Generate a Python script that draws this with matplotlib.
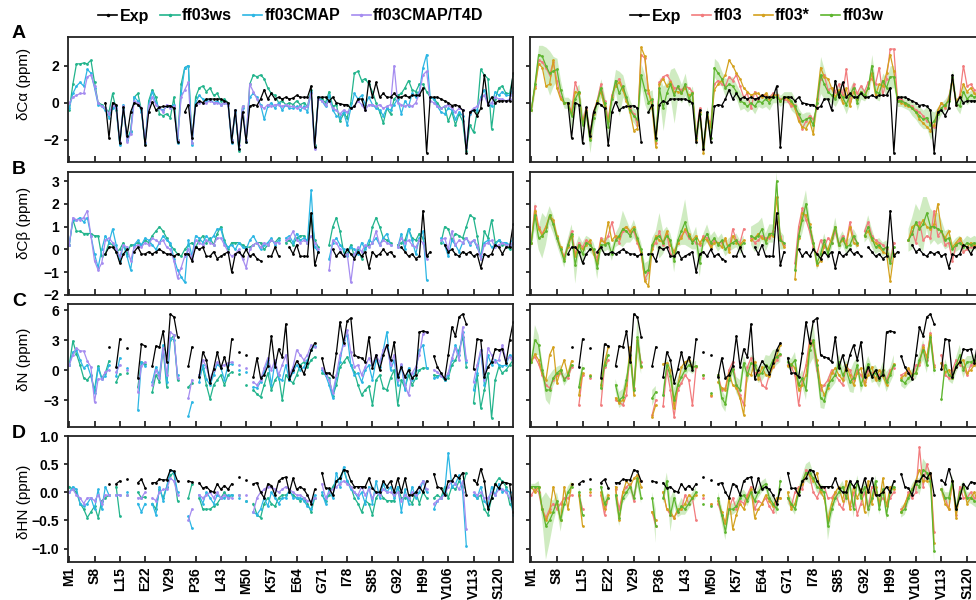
import numpy as np
import matplotlib.pyplot as plt
from matplotlib.lines import Line2D

plt.rcParams['font.family'] = ['Liberation Sans', 'DejaVu Sans']


def vals(s):
    out = [np.nan if t == '-' else float(t) for t in s.split()]
    assert len(out) == 124, len(out)
    return np.array(out)


res = np.arange(1, 125)
tick_pos = list(range(1, 121, 7))
tick_labels = ['M1', 'S8', 'L15', 'E22', 'V29', 'P36', 'L43', 'M50', 'K57', 'E64',
               'G71', 'I78', 'S85', 'G92', 'H99', 'V106', 'V113', 'S120']

# ---------------- A: C-alpha ----------------
exp_a = vals("""
- - - - - - - - - -
0.0 -1.9 0.0 -0.1 -2.2 -0.25 -1.8 -0.5 0.0 -0.1
-0.3 -2.3 -0.5 0.05 -0.4 -0.25 -0.2 -0.2 -0.15 -0.3
-2.1 - -0.5 -0.1 -1.9 -0.1 0.1 0.0 0.2 0.2
0.2 0.2 0.2 0.1 0.0 -2.1 -0.4 -2.5 -0.5 -2.1
-0.2 -0.1 -0.15 0.2 0.7 0.2 0.5 0.2 0.3 0.2
0.3 0.2 0.25 0.4 0.3 0.3 0.3 0.9 -2.4 0.3
0.3 0.3 0.1 0.3 0.0 -0.05 -0.1 -0.1 -0.3 -0.2
0.2 0.2 -0.4 1.2 0.3 1.1 0.3 0.5 0.3 0.3
0.5 0.3 0.3 0.4 0.3 0.4 0.4 0.4 0.8 -2.7
0.3 0.3 0.3 0.2 0.1 0.0 -0.15 -0.1 -0.2 -0.4
-2.7 -0.5 -0.4 -0.7 -0.3 1.5 -0.1 0.3 0.0 0.1
0.1 0.1 0.1 1.6
""")
ws_a = vals("""
-0.4 1.0 2.1 2.1 2.15 2.1 2.3 1.1 0.0 -0.1
-0.3 -0.5 0.5 -0.4 -2.2 -0.3 -2.0 -1.5 0.3 0.5
-0.4 -2.2 0.1 0.7 0.3 -0.6 -0.7 -0.6 -0.8 0.3
-2.0 1.0 1.9 2.0 -2.2 0.3 0.8 0.9 0.6 0.8
0.4 0.5 0.1 0.2 0.0 -2.0 -0.4 -2.6 -0.2 -2.0
1.0 1.5 1.4 1.5 1.3 0.8 0.5 0.4 0.0 0.1
-0.1 0.0 -0.1 0.1 -0.1 0.0 -0.2 0.7 -2.3 0.3
0.2 0.0 0.6 -0.2 -0.1 -1.0 -0.6 -0.8 0.0 1.6
1.7 1.2 1.3 1.0 0.6 0.0 -0.5 -1.1 -0.3 -0.6
0.2 0.4 0.5 0.8 1.2 0.7 0.6 1.0 1.0 0.6
0.3 0.2 0.0 -0.3 -0.2 -1.0 -0.5 -1.2 -0.6 -1.0
-2.6 -1.2 -1.6 -0.5 1.8 1.5 1.3 -1.4 0.2 0.8
0.9 0.5 0.5 1.5
""")
cmap_a = vals("""
-0.3 0.5 0.9 1.1 0.9 1.8 1.6 0.8 -0.1 -0.2
-0.4 -0.8 -0.3 -0.2 -2.3 -0.1 -2.0 -1.6 0.3 0.1
-0.5 -2.2 -0.1 0.6 0.0 -0.3 -0.4 -0.2 -0.2 -0.1
-2.2 0.5 1.9 2.0 -2.3 0.0 0.4 0.2 0.1 0.2
0.0 0.1 -0.1 0.0 -0.1 -2.2 -0.5 -2.5 -0.3 -2.1
0.3 0.5 0.3 -0.1 -0.9 -0.2 0.0 -0.3 0.0 -0.4
-0.1 -0.3 -0.3 -0.2 -0.4 -0.2 -0.5 0.6 -2.4 0.3
0.1 -0.2 0.4 -0.4 -0.7 -0.8 -0.5 -1.2 -0.3 0.5
0.2 0.4 -0.1 0.3 -0.1 -0.3 -0.4 -0.7 -0.3 -0.4
-0.1 0.2 -0.6 0.1 -0.2 0.5 0.3 0.6 1.9 2.6
0.3 0.2 -0.2 -0.5 -0.6 -0.3 -0.4 -0.9 -0.5 -0.7
-2.4 -0.6 -0.4 -0.4 0.3 0.7 0.0 -0.2 0.6 0.4
0.6 0.4 0.4 0.8
""")
t4d_a = vals("""
0.0 0.3 0.4 0.5 0.5 1.4 1.5 0.9 0.0 -0.2
-0.3 -0.6 -0.1 -0.3 -2.1 -0.2 -2.1 -1.7 0.1 0.0
-0.3 -2.1 -0.2 0.3 -0.1 -0.3 -0.5 -0.1 -0.3 -0.2
-2.0 0.3 0.7 1.1 -2.2 -0.1 0.0 0.0 0.0 0.1
0.0 0.0 -0.1 0.0 -0.1 -2.0 -0.4 -2.3 -0.2 -2.0
1.0 0.6 0.2 -0.2 -0.3 -0.1 -0.2 -0.1 -0.1 -0.2
-0.1 -0.2 -0.2 -0.3 -0.2 -0.3 -0.2 0.5 -2.5 0.2
0.1 -0.1 0.1 -0.3 -0.4 -0.6 -0.4 -0.5 -0.3 -0.2
0.1 -0.1 -0.4 -0.1 -0.1 -0.2 -0.1 -0.3 -0.2 -0.1
2.0 0.0 -0.1 -0.2 -0.1 -0.2 0.0 0.5 1.5 1.7
0.1 0.0 -0.2 -0.3 -0.2 -0.1 -0.3 -0.5 -0.3 -0.4
-2.4 -0.5 -0.3 -0.2 0.2 0.4 -0.1 0.0 0.3 0.2
0.2 0.1 0.2 0.6
""")
ff03_a = vals("""
-0.4 0.9 2.3 2.2 1.9 1.5 2.2 1.2 0.3 0.0
0.0 -0.5 1.1 0.5 -1.0 -0.3 -1.7 -0.5 0.1 1.0
0.1 -0.9 0.4 1.0 1.3 0.8 0.2 -0.3 -0.6 -1.2
2.6 2.4 0.5 0.1 -2.2 1.1 1.4 1.5 1.2 0.8
0.8 0.7 0.9 0.8 0.6 -1.8 -0.3 -2.5 -0.8 -1.1
1.0 1.2 1.0 0.9 1.4 1.2 1.5 0.9 0.3 0.5
-0.3 0.6 0.2 0.4 0.4 0.3 0.5 0.4 0.2 0.2
0.1 -0.2 -0.1 -0.8 -1.4 -1.0 -0.7 -0.9 -0.3 1.3
1.5 0.7 0.8 0.6 1.0 0.4 1.8 0.1 1.0 0.5
0.9 0.6 1.1 1.3 1.0 1.9 0.4 1.3 2.9 2.9
0.2 0.2 0.0 -0.1 -0.2 -0.4 -0.5 -0.7 -1.0 -1.1
-1.3 -0.5 0.0 -0.3 0.3 1.3 -0.1 0.4 2.0 0.9
1.0 0.7 0.6 0.7
""")
star_a = vals("""
-0.4 0.8 2.1 1.9 0.9 1.0 2.3 0.8 0.2 0.0
0.0 -0.6 0.6 0.5 -1.1 -0.4 -1.9 -0.6 0.1 0.6
-0.2 -1.0 0.3 0.9 1.1 0.7 0.1 -0.5 -1.5 -1.4
3.0 2.5 0.7 -0.3 -2.4 1.0 1.3 0.9 1.1 0.6
0.6 0.5 0.8 0.4 0.5 -2.0 -0.5 -2.7 -0.7 -1.3
0.7 1.0 1.2 1.5 2.3 2.0 1.6 1.3 0.8 0.6
0.4 0.5 0.5 0.3 0.5 0.2 0.4 0.4 0.1 0.3
0.2 0.0 -0.3 -1.0 -1.3 -1.4 -1.0 -1.7 0.2 1.9
1.4 1.3 0.8 0.3 0.7 0.0 0.8 -0.2 0.6 0.2
0.6 0.3 0.8 1.6 0.4 1.0 0.9 1.6 2.6 1.7
0.1 0.0 -0.1 -0.2 -0.3 -0.5 -0.9 -1.1 -1.3 -1.5
-1.2 -0.4 0.0 -0.2 0.2 1.2 0.1 0.3 1.0 0.6
0.8 0.5 0.3 0.5
""")
w_a = vals("""
-0.4 1.0 2.6 2.5 2.0 1.6 1.7 1.8 0.7 0.0
0.0 -0.7 0.2 0.6 -1.2 -0.5 -2.0 -0.8 0.0 0.8
0.0 -1.3 0.2 1.2 0.5 0.9 0.3 -0.4 -0.7 -0.9
1.5 0.7 0.0 0.2 -2.0 0.8 -0.3 0.5 1.0 0.4
0.9 0.5 1.0 0.2 0.5 -1.9 -0.6 -2.4 -0.6 -1.9
1.9 1.6 1.3 0.8 1.0 0.9 0.6 0.1 0.0 -0.2
0.0 -0.2 0.1 0.0 0.2 0.0 0.3 0.3 0.1 0.3
0.3 0.1 -0.2 -0.6 -1.0 -0.9 -0.8 -1.2 0.0 1.5
1.0 0.6 0.4 0.2 0.6 0.3 -0.1 0.4 0.8 0.0
0.6 0.4 0.8 2.0 0.6 0.5 1.2 0.8 1.4 1.4
0.1 0.1 0.0 -0.1 -0.3 -0.5 -0.7 -0.9 -0.8 -1.2
-1.0 -0.6 -0.3 -0.1 0.1 1.4 0.0 -0.2 0.6 0.2
0.4 0.3 0.4 0.4
""")
band_a = vals("""
0.3 0.4 0.5 0.6 1.0 1.2 0.8 0.6 0.5 0.3
0.3 0.8 0.6 0.4 0.6 0.4 0.7 0.5 0.4 0.5
0.4 0.6 0.4 0.6 1.2 0.6 0.4 0.5 0.4 0.5
0.6 0.8 0.6 0.5 0.6 0.6 1.2 0.6 0.8 1.5
0.6 0.5 0.6 0.4 0.4 0.5 0.4 0.5 0.4 0.4
0.5 0.6 0.4 0.5 0.4 0.5 0.4 0.5 0.3 0.3
0.3 0.4 0.3 0.3 0.4 0.4 0.3 0.3 0.3 0.3
0.3 0.5 0.4 0.3 0.4 0.4 0.3 0.3 0.4 1.0
0.8 0.5 0.4 0.4 0.4 0.4 0.5 0.4 0.4 0.4
0.4 0.3 0.4 0.6 0.4 0.4 0.4 0.5 0.6 0.6
0.3 0.3 0.3 0.3 0.4 0.4 0.5 0.5 0.6 0.8
0.5 0.4 0.3 0.3 0.4 0.4 0.3 0.4 0.5 0.3
0.3 0.3 0.3 0.3
""")

# ---------------- B: C-beta ----------------
exp_b = vals("""
- - - - - - - - - -
-0.2 0.1 0.1 -0.1 -0.6 -0.2 0.0 - -0.1 0.1
-0.2 -0.2 -0.1 -0.2 -0.1 0.0 -0.1 -0.2 -0.2 -0.3
-0.2 - -0.2 -0.2 -0.5 0.1 0.0 0.1 -0.3 -0.3
-0.1 -0.4 -0.3 -0.2 -0.1 -1.0 -0.2 -0.1 -0.3 0.0
-0.3 -0.2 -0.4 -0.5 - -0.3 -0.3 0.1 -0.3 -
- 0.1 -0.2 0.2 -0.3 -0.3 -0.3 1.6 -0.7 -0.1
- - - 0.0 -0.3 -0.1 -0.3 0.0 -0.2 -0.4
-0.1 -0.3 -0.1 -0.8 -0.1 -0.3 -0.2 0.0 -0.2 -0.1
-0.3 - 0.1 -0.1 -0.3 -0.2 -0.4 -0.3 1.7 -0.3
-0.1 - - - 0.2 -0.1 0.0 -0.2 -0.3 -0.1
-0.2 -0.1 -0.3 -0.2 -0.8 -0.2 -0.3 -0.2 0.2 0.1
-0.2 0.1 0.1 1.1
""")
ws_b = vals("""
0.2 1.3 0.8 0.8 0.7 0.7 0.7 0.6 0.6 -0.3
-0.2 0.3 0.2 -0.1 0.0 0.3 -0.2 0.2 0.2 0.3
0.2 0.4 0.3 0.6 0.8 1.0 0.8 0.5 0.2 0.0
-0.2 -0.3 0.0 0.2 0.3 0.1 0.4 0.6 0.3 0.5
0.2 0.7 1.0 0.4 0.0 0.3 0.3 0.3 0.2 0.1
0.1 0.2 0.3 0.3 0.0 0.2 0.4 0.3 0.5 -
0.3 0.4 0.2 0.5 0.6 0.6 0.3 1.5 0.4 0.1
- - 0.2 1.0 1.4 0.8 -0.1 -0.2 0.2 -0.3
0.0 -0.4 0.1 0.2 1.0 1.4 1.0 0.5 0.4 0.3
- 0.2 0.3 0.4 0.9 0.5 0.4 0.7 0.5 -0.3
- - - 0.3 1.0 0.9 0.4 0.7 0.6 0.5
1.0 1.5 1.4 0.6 -0.4 0.8 0.5 1.3 0.3 0.4
0.2 0.2 0.0 0.3
""")
cmap_b = vals("""
0.2 1.3 1.3 1.4 1.2 1.4 0.6 -0.2 -0.8 0.0
0.6 0.3 0.9 0.2 -0.5 0.2 -0.3 -0.9 0.2 0.4
0.2 0.5 0.4 0.2 0.0 0.3 0.6 0.4 0.3 -0.4
-0.9 -1.2 -1.45 0.4 -0.3 0.6 0.5 0.3 0.6 0.4
0.6 0.9 0.9 0.3 0.1 0.2 0.0 0.3 0.1 0.0
0.4 0.6 0.3 0.0 0.2 0.3 0.5 0.2 0.4 -
0.5 0.6 0.3 0.7 0.4 0.5 0.4 2.6 0.1 -0.1
- - -0.4 0.3 0.5 0.2 0.0 -0.3 0.1 0.0
-0.2 0.3 0.0 0.4 0.3 0.5 0.2 0.5 0.7 0.2
- 0.1 0.7 0.0 0.9 0.4 -0.2 0.5 0.8 -1.35
- - - 0.5 0.2 -0.3 0.4 0.2 -0.1 0.3
0.5 0.2 0.4 0.1 -0.3 0.3 0.4 0.1 0.2 0.4
0.3 0.3 0.2 0.5
""")
t4d_b = vals("""
0.2 1.4 1.3 1.3 1.4 1.7 0.6 -0.5 -0.9 -0.6
0.4 0.5 0.3 0.0 -0.3 0.2 0.1 -0.5 0.1 0.2
0.1 0.3 0.2 0.5 0.4 0.3 0.4 0.1 0.0 -0.5
-1.25 -0.8 -0.3 0.0 -0.4 0.4 0.3 0.2 0.4 0.3
0.2 0.5 0.5 0.2 -0.1 -0.3 -0.2 0.0 -0.4 -0.8
0.0 0.2 0.3 0.1 0.3 0.2 0.4 0.3 0.3 -
0.4 0.5 0.8 0.4 0.3 0.4 0.3 0.6 0.3 0.0
- - -0.9 0.4 0.3 0.0 -0.3 -0.2 -1.45 -0.2
0.1 -0.1 0.2 0.1 0.3 0.8 0.2 0.4 0.3 0.2
- 0.1 0.5 0.3 0.4 0.2 0.1 0.4 0.3 -0.4
- - - 0.4 0.5 0.0 0.8 0.2 0.4 0.3
0.5 0.3 0.4 0.2 -0.4 0.2 0.3 0.4 0.1 0.2
0.3 0.2 0.2 0.3
""")
ff03_b = vals("""
0.3 1.9 1.0 0.7 1.0 1.4 1.2 0.5 0.0 -0.3
0.2 0.8 -0.2 0.3 0.1 0.4 0.3 -0.1 -0.4 0.5
0.3 0.6 1.2 0.5 0.3 0.8 1.0 0.7 0.8 0.3
-0.2 -1.3 -1.0 0.1 0.3 0.8 0.2 0.7 -0.2 -0.3
0.3 0.6 0.8 0.5 0.4 0.3 0.2 0.6 0.5 0.2
0.4 0.3 0.3 0.4 0.0 0.9 0.4 0.3 0.9 -
0.5 0.3 0.4 0.6 0.5 0.5 0.8 1.2 0.6 0.2
- - -0.6 1.0 1.8 1.3 0.8 0.1 -0.2 0.4
0.1 0.5 0.3 0.8 0.2 0.6 0.3 1.2 0.5 0.3
- 0.8 1.2 0.6 0.4 0.3 0.2 0.0 -0.5 0.3
- - - 0.4 0.8 0.3 1.2 0.4 0.6 0.5
1.7 0.6 0.8 0.2 0.3 -0.5 0.2 0.4 -0.1 0.0
0.1 0.2 0.0 0.2
""")
star_b = vals("""
0.3 1.7 0.9 0.6 1.0 1.5 1.3 0.6 0.1 -0.4
0.1 0.6 -0.3 0.2 0.0 0.2 0.4 -0.2 -0.6 0.4
0.3 1.2 0.4 0.6 0.5 0.9 1.0 0.8 1.0 0.4
-0.1 -1.4 -1.6 0.0 0.6 0.4 0.3 0.8 0.2 -0.1
0.3 0.5 0.9 0.7 0.4 0.6 0.3 0.5 0.4 0.1
0.3 0.3 0.1 0.5 -0.1 0.6 0.3 0.2 0.4 -
0.4 0.5 0.7 0.5 0.4 0.6 0.6 2.3 0.5 0.1
- - -1.3 0.5 1.6 1.5 1.1 0.3 -0.7 -0.5
0.2 0.0 0.5 1.0 0.2 0.4 0.2 1.0 0.3 0.2
- 0.6 0.8 0.4 0.3 0.1 -0.1 -0.2 -1.4 -0.2
- - - 0.4 1.0 1.1 1.0 1.3 1.0 0.9
1.1 2.0 0.8 0.5 0.8 0.1 0.3 0.5 0.2 0.1
0.3 0.2 0.1 0.3
""")
w_b = vals("""
0.3 1.5 0.5 0.6 0.8 1.5 1.1 0.5 0.0 -0.5
0.2 0.7 -0.7 0.2 -0.2 0.3 0.2 0.0 -0.8 0.2
0.2 0.3 -0.2 0.4 0.6 0.9 0.8 0.6 0.9 0.5
0.0 -1.0 -0.9 0.2 0.5 0.6 0.3 0.6 0.4 -0.5
0.4 0.8 1.2 0.6 0.3 0.5 -0.6 0.4 0.7 0.3
0.5 0.2 0.4 0.0 0.2 0.3 0.4 0.1 0.3 -
0.6 0.5 0.6 0.9 0.3 0.7 0.7 3.0 0.4 0.3
- - -0.9 0.6 1.3 2.0 1.0 0.3 -0.6 -0.2
0.4 -0.2 0.3 1.0 0.2 0.5 0.1 0.2 0.6 0.3
- 0.6 1.0 0.5 0.1 0.2 0.0 0.1 -0.6 0.1
- - - 0.4 0.7 1.2 0.9 1.1 1.6 1.0
1.0 0.9 0.8 0.4 0.5 0.0 0.2 0.3 0.1 0.3
0.2 0.3 0.2 0.4
""")
band_b = vals("""
0.3 0.6 0.5 1.0 0.6 0.4 0.4 0.3 0.3 0.3
0.3 0.4 0.8 0.4 0.5 0.3 0.3 0.3 0.5 0.3
0.3 0.3 0.3 0.3 0.4 0.8 0.5 0.3 0.4 0.3
0.3 0.4 0.4 0.3 0.3 1.0 0.5 0.4 0.3 0.5
0.3 0.6 1.0 0.5 0.3 0.5 0.6 0.3 0.4 0.3
0.3 0.3 0.3 0.3 0.3 0.3 0.3 0.3 0.3 -
0.4 0.6 0.6 0.5 0.4 0.4 0.4 0.4 0.4 0.3
- - 0.3 0.4 0.6 0.6 0.4 0.3 0.3 0.3
0.3 0.3 0.3 0.4 0.3 0.3 0.3 0.3 0.3 0.3
- 0.3 0.5 0.4 0.3 0.3 0.3 0.3 0.4 0.3
- - - 0.5 0.7 0.8 0.8 1.2 0.7 0.8
0.6 0.7 0.5 0.4 0.4 0.3 0.3 0.3 0.3 0.3
0.3 0.3 0.3 0.3
""")

# ---------------- C: N ----------------
exp_c = vals("""
- - - - - - - - - -
- 2.3 - 0.3 3.1 - 2.2 - - -0.8
2.6 2.4 - 0.4 2.4 2.3 3.9 0.8 5.6 5.3
3.3 - - 0.4 2.3 - -0.7 1.8 1.0 -1.3
0.1 1.8 0.2 1.3 0.0 3.1 - 1.8 - 1.5
- -0.7 1.2 -0.8 -0.5 0.4 3.4 0.3 2.1 1.3
4.6 -0.9 0.0 0.9 0.4 -0.4 0.7 2.0 2.7 -
1.2 -0.3 -0.3 -0.7 1.7 4.8 2.7 4.9 5.2 1.5
1.3 1.2 0.8 3.3 0.2 1.5 0.0 1.5 2.5 1.0
2.8 -0.7 0.3 -0.7 0.0 -0.8 -0.5 3.8 3.9 3.8
- 1.4 0.3 -0.3 -0.9 1.5 4.3 3.4 5.3 5.6
4.6 - 0.1 3.1 3.0 -0.7 0.3 0.8 2.1 2.0
2.1 0.7 3.0 4.8
""")
ws_c = vals("""
0.5 2.9 1.6 0.5 -0.8 -1.0 -0.5 -2.0 0.4 -0.8
-0.3 0.9 - -1.2 -0.4 - -0.3 - - -1.7
0.8 0.6 - -2.2 -0.5 -1.2 2.1 -1.7 3.0 3.5
-1.0 - - -1.7 -1.3 - -0.5 0.2 -1.5 -2.9
-1.5 -1.0 -0.5 -1.5 -0.5 -0.2 - -0.4 - -1.5
- -2.0 -2.4 -2.7 -1.5 -0.3 -2.0 -1.0 -0.5 -3.0
-0.5 -1.0 -1.3 -0.5 0.5 0.8 0.3 1.0 1.3 -
-0.3 -0.5 -0.8 -2.6 -1.5 0.3 0.8 1.3 0.5 -0.2
-1.5 -2.5 -2.0 -1.6 -3.5 -1.0 -0.5 -1.8 -2.0 -0.8
0.0 -3.5 -1.0 -1.8 -0.5 -1.5 -0.8 0.0 0.2 0.2
- -0.5 -0.6 -0.5 -1.0 -0.8 0.5 1.0 2.0 3.3
0.3 - -3.3 -0.5 -3.8 -2.0 -0.3 -4.8 -1.0 0.3
-0.3 0.0 0.5 1.0
""")
cmap_c = vals("""
0.5 1.8 2.0 1.0 0.2 0.5 -0.6 -2.3 0.2 -0.9
-0.6 0.5 - -0.6 1.2 - 0.2 - - -4.0
0.8 0.4 - -1.2 0.3 -0.5 2.5 -1.2 3.2 3.0
-0.5 - - -4.6 -3.2 - -1.2 0.5 -0.9 -1.5
-0.5 0.6 0.2 -1.0 0.5 0.6 - 0.0 - -0.2
- -1.7 -1.8 -1.2 -0.2 1.0 -1.5 0.8 -0.9 -1.0
0.5 -1.0 -0.2 0.5 0.0 0.3 1.0 2.0 2.4 -
0.0 -0.5 -1.5 -2.8 -0.8 0.8 3.0 3.5 0.5 -0.5
-0.3 -1.2 0.0 0.5 -1.0 1.0 0.3 2.0 3.8 0.0
1.0 -1.5 0.5 -2.0 0.2 -1.0 0.0 2.0 2.5 0.2
- -0.8 -0.7 -0.5 -1.0 -0.5 1.0 2.5 1.5 3.8
0.8 - -2.0 -0.3 2.0 -1.5 1.5 0.5 1.0 0.5
0.4 0.5 1.5 1.2
""")
t4d_c = vals("""
0.5 1.5 2.2 1.9 1.9 0.9 0.3 -3.2 -0.9 -0.9
-0.2 0.0 - -0.2 0.5 - 0.0 - - -2.2
0.4 0.8 - -1.5 0.0 -0.8 2.2 -0.5 3.8 3.5
-0.8 - - -2.8 -1.0 - -0.5 1.0 0.3 -0.9
0.0 0.8 0.4 0.5 0.7 0.8 - 0.5 - 0.2
- -1.2 -1.5 -1.0 0.2 1.2 0.0 1.0 -0.5 0.5
1.5 -0.5 0.3 2.0 1.5 1.0 1.5 2.5 2.3 -
0.2 -0.4 -1.0 -2.3 -0.5 1.5 2.5 4.0 1.8 0.3
0.5 -0.5 0.3 1.2 0.5 1.5 0.8 2.0 2.5 0.5
1.5 -1.0 0.6 -1.5 -2.5 -0.3 0.3 1.5 3.6 3.8
- 0.0 -0.2 -0.6 -0.8 -0.3 1.2 2.2 1.0 4.3
1.0 - -1.2 0.5 2.0 -1.0 2.2 1.5 0.8 1.0
2.5 1.0 1.3 0.8
""")
ff03_c = vals("""
1.0 1.3 0.6 -0.5 -1.5 -1.8 -1.0 -0.5 -0.3 -0.8
-0.8 0.3 - -3.5 -0.5 - -0.8 - - -3.5
0.3 1.0 - -3.0 -3.2 -3.5 -2.5 2.0 -1.8 2.8
0.8 - - -4.5 -3.0 - -3.6 0.0 -2.0 -4.7
-2.0 -1.3 -0.5 -1.0 -3.5 0.3 - -0.8 - -2.6
- -0.5 -2.0 -1.8 0.0 0.8 -1.5 -2.5 -3.5 0.3
1.2 -0.3 -0.2 -1.5 -1.8 -0.5 0.3 1.0 1.5 -
0.5 0.3 -0.5 -3.5 -1.0 0.5 3.0 2.5 0.0 -2.0
-1.5 -1.0 0.0 -0.5 -1.0 -1.5 0.3 0.0 -1.0 0.0
-0.5 -1.2 0.0 -0.3 -0.8 -0.5 0.0 -1.0 0.0 0.2
- -0.5 -0.3 0.0 -0.8 0.5 0.5 2.5 1.0 3.7
0.5 - 1.5 -0.5 -0.8 0.0 1.0 0.5 0.3 -0.5
0.5 0.8 0.0 0.5
""")
star_c = vals("""
0.8 1.6 1.0 -0.3 -1.0 1.5 2.3 -1.3 0.0 1.0
-0.5 0.9 - -2.5 -0.3 - -0.5 - - -1.5
0.7 2.3 - -2.8 -3.3 -3.0 -1.5 2.3 -2.5 3.0
0.3 - - -4.7 -3.5 - 0.6 0.7 0.0 -3.8
-1.5 0.3 0.8 1.0 0.3 0.4 - -0.5 - -2.5
- -1.2 -1.8 -2.0 -0.3 -1.5 -1.8 -2.8 -4.5 -0.3
-0.5 0.8 -0.9 0.3 -0.5 -0.6 0.4 1.4 2.5 -
0.4 0.6 0.2 -2.0 -1.5 -0.5 2.5 2.8 1.0 -1.5
-2.5 -1.8 -0.3 0.2 -0.5 -1.0 0.5 -0.5 -1.5 -0.3
0.2 -1.5 -0.5 0.3 -1.0 0.0 -0.6 -1.5 -0.3 0.6
- -0.8 -0.5 0.2 -0.5 -0.3 0.8 2.3 1.3 3.5
0.3 - 0.7 -0.2 0.0 -0.8 0.5 0.8 1.0 -0.3
0.0 0.5 1.0 0.3
""")
w_c = vals("""
0.8 3.0 2.5 0.0 -2.0 -2.0 -0.8 -0.3 0.0 -1.0
-0.5 0.5 - -1.7 0.2 - -0.6 - - -1.8
0.5 1.5 - -1.5 -3.0 -2.7 -1.0 1.5 -2.0 3.3
0.4 - - -2.8 -2.2 - -2.5 0.5 -0.6 -3.0
-1.5 -0.7 0.0 0.5 0.2 0.4 - -0.5 - -2.3
- -0.5 -2.8 -3.4 -1.0 0.1 -1.5 -2.0 0.7 -0.5
0.7 0.5 -0.5 -0.3 0.5 0.2 1.0 1.3 1.6 -
0.8 0.5 1.0 -1.5 -0.8 -2.0 2.0 3.0 0.5 -2.8
-3.1 -1.5 -1.0 -0.5 0.8 -0.5 0.0 -1.2 -0.8 0.5
-1.5 -0.5 0.6 -0.5 -0.3 -1.0 0.0 -1.2 -0.5 0.5
- -1.0 -1.3 -0.8 -0.5 -0.3 1.0 2.0 0.5 3.3
0.0 - -2.9 0.5 -0.5 -0.8 0.5 1.5 0.0 0.8
0.8 1.0 0.5 0.8
""")
band_c = vals("""
0.5 1.5 1.0 0.8 1.0 1.5 0.8 0.6 0.5 0.6
0.5 0.5 - 0.8 0.6 - 0.5 - - 0.8
0.6 0.8 - 0.6 0.8 0.8 0.7 1.0 1.0 2.0
0.8 - - 0.8 0.6 - 0.8 0.6 1.0 1.2
0.8 0.8 0.7 0.6 0.6 0.5 - 0.5 - 0.5
- 0.6 0.8 0.8 0.8 0.6 0.8 1.0 0.8 0.8
0.8 0.7 0.8 0.8 1.0 1.2 1.0 0.8 0.8 -
0.6 0.6 0.8 0.8 0.8 1.0 1.5 1.8 1.0 1.0
0.8 0.8 0.8 0.8 0.8 0.8 1.0 1.0 1.5 0.8
0.8 0.8 0.8 0.8 0.8 0.8 0.8 1.0 0.8 1.0
- 0.6 0.6 0.6 0.6 0.6 0.8 1.0 0.8 1.0
0.6 - 0.6 0.6 0.6 0.6 0.8 1.0 0.8 0.6
0.6 0.6 0.6 0.6
""")

# ---------------- D: HN ----------------
exp_d = vals("""
- - - - - - - - - -
- 0.15 - 0.15 0.2 - 0.23 - - 0.17
0.23 0.08 - 0.17 0.17 0.23 0.22 0.22 0.4 0.37
0.2 - - 0.2 0.18 - 0.17 0.07 0.1 0.03
0.0 0.15 0.05 0.12 0.05 0.15 - 0.27 - 0.22
- 0.15 0.17 0.0 -0.1 0.15 0.12 -0.05 0.2 0.25
0.27 0.0 0.25 0.05 0.1 0.05 -0.05 -0.2 0.05 -
0.35 0.07 0.07 -0.05 0.2 0.25 0.4 0.38 0.2 0.1
0.1 0.1 0.1 0.25 0.07 0.0 0.0 0.2 0.1 0.2
0.0 0.25 0.0 0.25 -0.05 -0.05 0.0 0.1 0.0 0.2
- 0.33 0.1 0.07 -0.05 0.2 0.2 0.3 0.25 0.35
-0.05 - 0.22 0.15 0.42 0.2 -0.3 -0.1 0.15 0.07
0.18 0.17 0.15 -0.35
""")
ws_d = vals("""
0.1 0.05 0.0 -0.2 -0.3 -0.45 -0.35 -0.25 -0.45 -0.15
-0.1 -0.05 - 0.1 -0.42 - -0.05 - - 0.0
-0.1 -0.08 - -0.2 -0.3 0.05 -0.1 0.1 0.3 0.35
-0.15 - - -0.1 0.15 - -0.1 -0.3 -0.3 -0.3
-0.25 -0.2 -0.1 0.0 -0.1 -0.05 - -0.05 - -0.15
- -0.2 -0.4 -0.45 -0.2 -0.1 -0.2 -0.25 -0.1 -0.05
-0.05 0.0 -0.05 -0.1 -0.15 -0.1 -0.2 -0.35 -0.1 -
-0.05 -0.15 -0.05 0.1 0.2 0.25 0.4 0.2 0.1 -0.1
-0.2 -0.35 -0.15 -0.2 -0.4 -0.1 0.0 -0.1 -0.15 -0.15
-0.15 0.1 -0.1 -0.1 -0.1 -0.2 0.0 -0.2 0.0 -0.1
- -0.1 -0.05 -0.1 0.1 -0.1 0.1 0.05 0.2 0.1
0.35 - -0.05 -0.1 -0.05 -0.3 -0.4 -0.1 0.15 0.25
0.2 0.1 -0.2 -0.3
""")
cmap_d = vals("""
0.0 0.1 0.05 -0.2 -0.25 -0.2 -0.1 -0.3 0.05 -0.3
0.1 -0.05 - -0.05 -0.05 - 0.0 - - -0.2
-0.35 -0.2 - -0.2 -0.4 0.1 -0.15 0.1 0.4 0.35
0.0 - - -0.43 -0.64 - -0.05 -0.2 0.0 -0.1
-0.2 -0.05 -0.1 -0.1 -0.05 -0.05 - -0.1 - -0.15
- -0.35 -0.4 -0.3 -0.1 -0.25 0.0 -0.1 -0.2 -0.1
-0.1 0.05 -0.1 -0.1 -0.1 -0.15 -0.25 -0.3 -0.05 -
0.0 -0.2 0.05 -0.1 0.35 0.1 0.45 0.2 0.05 0.0
-0.1 0.0 -0.2 0.1 -0.2 0.2 -0.1 0.15 0.0 0.1
-0.1 0.1 -0.35 0.05 -0.2 0.1 -0.1 0.0 0.2 0.0
- -0.3 -0.15 -0.1 0.0 0.7 0.1 0.15 0.3 0.0
-0.95 - -0.05 -0.1 0.1 -0.15 -0.25 0.1 -0.05 0.15
0.0 0.05 0.0 -0.4
""")
t4d_d = vals("""
0.0 0.05 -0.05 -0.1 -0.2 -0.1 -0.1 -0.15 -0.05 -0.2
-0.05 -0.05 - -0.05 -0.05 - -0.05 - - -0.1
-0.1 0.0 - -0.1 -0.15 0.0 0.05 0.05 0.25 0.2
-0.05 - - -0.5 -0.3 - -0.05 -0.1 -0.05 0.0
-0.1 0.0 -0.1 -0.05 -0.1 -0.1 - -0.05 - -0.05
- -0.35 -0.1 0.0 0.05 0.1 0.1 0.05 0.0 0.05
0.1 0.05 0.0 -0.05 -0.05 -0.1 -0.15 -0.15 -0.1 -
0.15 -0.1 0.0 0.05 0.1 0.15 0.2 0.15 0.1 0.0
-0.05 0.1 -0.05 0.05 -0.1 0.0 -0.05 0.05 0.0 0.0
-0.05 0.0 -0.15 -0.05 -0.1 0.0 -0.05 0.1 0.2 0.05
- -0.2 -0.15 -0.1 -0.05 0.1 0.2 0.15 0.05 0.2
-0.65 - 0.0 -0.05 0.0 -0.1 -0.1 0.0 -0.05 0.05
0.05 0.0 -0.1 -0.1
""")
ff03_d = vals("""
-0.05 0.05 0.0 -0.3 -0.45 -0.3 -0.2 -0.3 -0.2 -0.1
-0.1 -0.05 - -0.05 -0.3 - -0.05 - - -0.05
-0.4 -0.1 - 0.05 -0.3 0.0 0.1 0.15 -0.15 0.3
0.2 - - -0.35 -0.6 - 0.0 -0.3 -0.4 -0.45
-0.35 -0.3 -0.05 -0.2 -0.1 -0.5 - -0.1 - -0.2
- -0.2 -0.4 -0.55 -0.3 -0.1 -0.3 -0.15 -0.2 -0.05
0.1 -0.3 -0.15 -0.2 -0.1 -0.25 -0.35 -0.15 -0.1 -
-0.1 -0.25 0.0 0.1 0.05 0.4 0.3 0.0 -0.1 0.05
0.1 -0.1 -0.1 0.0 -0.2 -0.3 0.0 -0.25 0.0 -0.4
-0.2 0.0 -0.3 0.1 0.0 -0.2 -0.1 -0.2 -0.1 0.0
- -0.3 -0.25 0.0 -0.1 0.0 0.8 0.1 0.5 0.3
-0.7 - 0.05 -0.1 -0.3 0.2 -0.4 0.1 -0.1 -0.1
0.0 -0.1 -0.1 -0.15
""")
star_d = vals("""
0.1 0.0 0.1 -0.3 -0.5 -0.35 0.1 -0.2 -0.5 0.1
-0.3 0.15 - -0.05 -0.6 - 0.0 - - 0.0
-0.3 -0.05 - 0.1 -0.5 0.0 0.2 0.1 0.25 0.3
0.1 - - -0.35 -0.5 - 0.0 -0.3 -0.35 -0.45
-0.3 -0.3 -0.2 -0.05 -0.1 -0.05 - -0.05 - -0.2
- -0.15 -0.35 -0.55 -0.1 -0.65 -0.4 -0.2 -0.3 -0.1
0.05 -0.45 -0.3 -0.2 -0.05 -0.15 -0.25 -0.1 -0.1 -
0.0 -0.3 -0.2 0.05 0.15 0.35 0.3 0.2 0.35 0.0
-0.1 -0.5 -0.2 0.0 0.1 -0.15 0.2 -0.3 0.1 -0.1
0.05 -0.35 0.2 -0.2 0.1 -0.2 0.25 -0.25 0.1 0.05
- -0.35 -0.2 -0.05 0.05 0.2 0.4 0.2 0.2 0.35
-0.9 - 0.05 -0.2 -0.3 0.2 -0.45 0.0 0.1 -0.2
-0.1 0.0 -0.2 -0.1
""")
w_d = vals("""
0.1 0.1 0.1 -0.3 -0.6 -0.5 -0.35 -0.15 -0.5 -0.2
0.0 0.1 - 0.0 -0.4 - 0.05 - - 0.1
-0.2 -0.1 - -0.05 -0.45 -0.1 0.0 0.1 -0.1 0.25
-0.1 - - -0.1 -0.6 - -0.1 0.2 -0.4 -0.1
-0.35 -0.25 -0.3 -0.2 -0.1 0.0 - -0.2 - -0.25
- -0.1 -0.4 -0.7 -0.3 -0.3 -0.25 -0.1 -0.05 -0.15
0.0 -0.15 0.0 0.1 0.15 -0.1 -0.2 -0.3 0.2 -
-0.1 -0.2 -0.3 0.0 0.2 0.35 0.35 0.25 0.1 0.05
0.0 -0.6 -0.3 -0.1 0.0 0.1 -0.1 0.15 -0.3 0.2
-0.1 0.1 -0.3 -0.1 0.2 -0.3 0.05 -0.4 0.0 0.1
- -0.35 -0.3 -0.1 0.05 0.15 0.1 0.4 0.35 0.2
-1.05 - 0.05 -0.1 -0.1 0.2 -0.3 0.0 0.1 -0.1
-0.1 -0.15 -0.2 -0.1
""")
band_d = vals("""
0.05 0.05 0.1 0.2 0.6 0.4 0.2 0.15 0.2 0.1
0.1 0.1 - 0.1 0.15 - 0.1 - - 0.1
0.1 0.1 - 0.15 0.15 0.1 0.1 0.1 0.1 0.15
0.1 - - 0.1 0.3 - 0.1 0.15 0.3 0.15
0.1 0.15 0.1 0.1 0.1 0.1 - 0.1 - 0.1
- 0.1 0.15 0.15 0.1 0.1 0.1 0.1 0.1 0.1
0.1 0.1 0.1 0.1 0.1 0.1 0.1 0.1 0.1 -
0.1 0.1 0.1 0.1 0.1 0.15 0.2 0.1 0.1 0.1
0.1 0.25 0.15 0.1 0.1 0.1 0.1 0.1 0.15 0.1
0.1 0.1 0.15 0.1 0.1 0.1 0.1 0.1 0.1 0.1
- 0.1 0.1 0.1 0.1 0.1 0.15 0.2 0.15 0.15
0.2 - 0.1 0.1 0.1 0.1 0.1 0.1 0.1 0.1
0.1 0.1 0.1 0.1
""")

C_EXP = 'black'
C_WS = '#22b48c'
C_CMAP = '#2cb6e4'
C_T4D = '#a58cf0'
C_FF03 = '#f27b7d'
C_STAR = '#d4a11e'
C_W = '#5db52e'
C_BAND = '#a9dc8e'

rows = [
    dict(letter='A', label='δCα (ppm)', ylim=(-3.2, 3.55), ticks=[-2, 0, 2],
         tlabels=['−2', '0', '2'], top=37, bot=162, lab_y=84,
         left=[ws_a, cmap_a, t4d_a], right=[ff03_a, star_a, w_a], band=band_a, exp=exp_a),
    dict(letter='B', label='δCβ (ppm)', ylim=(-2.0, 3.4), ticks=[-2, -1, 0, 1, 2, 3],
         tlabels=['−2', '−1', '0', '1', '2', '3'], top=172, bot=295, lab_y=223,
         left=[ws_b, cmap_b, t4d_b], right=[ff03_b, star_b, w_b], band=band_b, exp=exp_b),
    dict(letter='C', label='δN (ppm)', ylim=(-5.7, 6.6), ticks=[-3, 0, 3, 6],
         tlabels=['−3', '0', '3', '6'], top=304, bot=427, lab_y=359,
         left=[ws_c, cmap_c, t4d_c], right=[ff03_c, star_c, w_c], band=band_c, exp=exp_c),
    dict(letter='D', label='δHN (ppm)', ylim=(-1.24, 1.0), ticks=[-1.0, -0.5, 0.0, 0.5, 1.0],
         tlabels=['−1.0', '−0.5', '0.0', '0.5', '1.0'], top=436, bot=562, lab_y=502,
         left=[ws_d, cmap_d, t4d_d], right=[ff03_d, star_d, w_d], band=band_d, exp=exp_d),
]

W, H = 976, 600
fig = plt.figure(figsize=(W / 100, H / 100), dpi=100)

line_kw = dict(lw=0.9, marker='o', ms=2.0, mew=0)


def style(ax, row, labels_left, last):
    ax.set_xlim(0.65, 123.8)
    ax.set_ylim(*row['ylim'])
    for sp in ax.spines.values():
        sp.set_linewidth(1.3)
        sp.set_color('#222222')
    ax.set_yticks(row['ticks'])
    if labels_left:
        ax.set_yticklabels(row['tlabels'], fontsize=10, fontweight='bold')
    else:
        ax.tick_params(axis='y', labelleft=False)
    ax.tick_params(axis='y', direction='out', length=3, width=1.1)
    ax.set_xticks(tick_pos)
    ax.tick_params(axis='x', direction='in', length=4, width=1.1)
    if last:
        ax.set_xticklabels(tick_labels, rotation=90, fontsize=10, fontweight='bold')
    else:
        ax.tick_params(axis='x', labelbottom=False)


for i, row in enumerate(rows):
    y0 = (H - row['bot']) / H
    h = (row['bot'] - row['top']) / H
    last = i == len(rows) - 1

    axl = fig.add_axes([68 / W, y0, 444.5 / W, h])
    for y, c in zip(row['left'], [C_WS, C_CMAP, C_T4D]):
        axl.plot(res, y, color=c, **line_kw)
    axl.plot(res, row['exp'], color=C_EXP, **line_kw)
    style(axl, row, True, last)

    axr = fig.add_axes([530 / W, y0, 451 / W, h])
    wv = row['right'][2]
    axr.fill_between(res, wv - row['band'], wv + row['band'], color=C_BAND,
                     alpha=0.55, lw=0)
    for y, c in zip(row['right'], [C_FF03, C_STAR, C_W]):
        axr.plot(res, y, color=c, **line_kw)
    axr.plot(res, row['exp'], color=C_EXP, **line_kw)
    style(axr, row, False, last)

    fig.text(19 / W, 1 - (row['top'] - 3) / H, row['letter'], fontsize=14,
             fontweight='bold', ha='center', va='center')
    fig.text(24 / W, 1 - row['lab_y'] / H, row['label'], fontsize=11,
             rotation=90, ha='center', va='center')


def handles(colors):
    return [Line2D([0], [0], color=c, lw=1.2, marker='o', ms=2.5, mew=0) for c in colors]


leg_kw = dict(ncol=4, frameon=False, loc='center', handlelength=1.2,
              handletextpad=0.15, columnspacing=0.7,
              prop=dict(weight='bold', size=11.5))
fig.legend(handles([C_EXP, C_WS, C_CMAP, C_T4D]),
           ['Exp', 'ff03ws', 'ff03CMAP', 'ff03CMAP/T4D'],
           bbox_to_anchor=(291 / W, 1 - 16 / H), **leg_kw)
fig.legend(handles([C_EXP, C_FF03, C_STAR, C_W]),
           ['Exp', 'ff03', 'ff03*', 'ff03w'],
           bbox_to_anchor=(757 / W, 1 - 16 / H), **leg_kw)

fig.savefig('out.png', dpi=100)
